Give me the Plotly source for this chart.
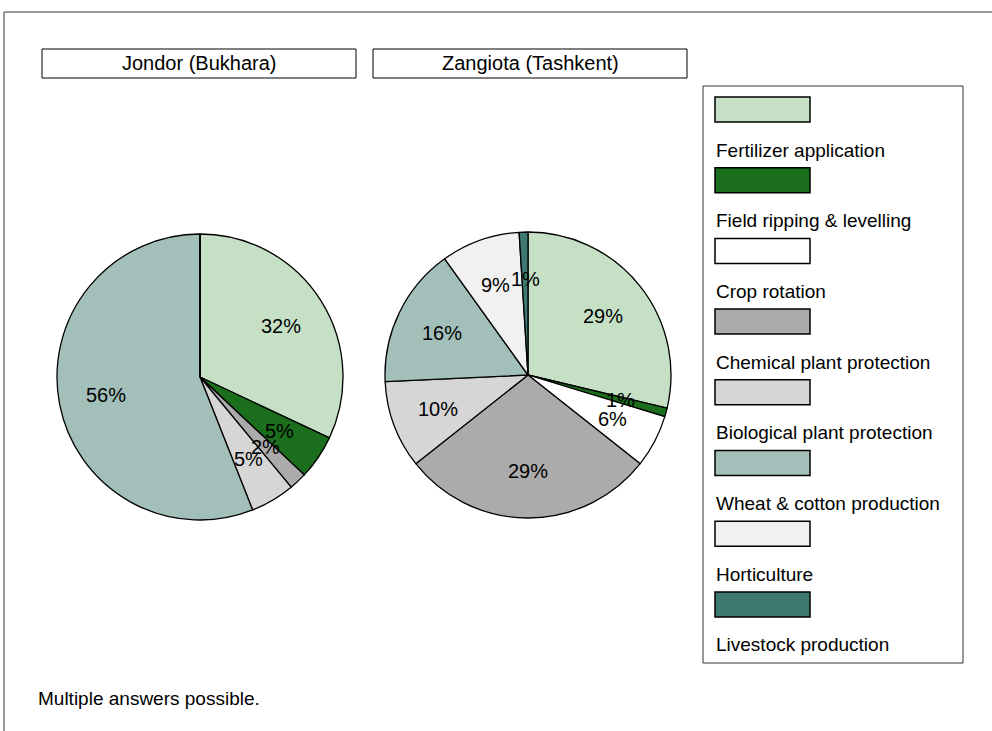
import math
import plotly.graph_objects as go

categories = ["Fertilizer application", "Field ripping & levelling", "Crop rotation",
              "Chemical plant protection", "Biological plant protection",
              "Wheat & cotton production", "Horticulture", "Livestock production"]
colors = ["#c5e0c5", "#1b6e1b", "#ffffff", "#ababab", "#d6d6d6", "#a2bfb9", "#f1f1f1", "#3f7a72"]
jondor_values = [32, 5, 0, 2, 5, 56, 0, 0]
zangiota_values = [29, 1, 6, 29, 10, 16, 9, 1]
pie_titles = ["Jondor (Bukhara)", "Zangiota (Tashkent)"]
footnote = "Multiple answers possible."

W, H = 992, 731
FONT = "Liberation Sans, Arial, sans-serif"


def px(x):
    return x / W


def py(y):
    return 1 - y / H


# pie geometry (pixel centres and radius)
pies = [
    dict(values=jondor_values, cx=200, cy=377, r=143, title=pie_titles[0], box=(42, 356)),
    dict(values=zangiota_values, cx=528, cy=375, r=143, title=pie_titles[1], box=(373, 687)),
]

fig = go.Figure()
annotations = []
shapes = []

for p in pies:
    cx, cy, r = p["cx"], p["cy"], p["r"]
    fig.add_trace(go.Pie(
        values=p["values"], labels=categories, sort=False, direction="clockwise",
        rotation=0, textinfo="none", hoverinfo="skip", showlegend=False,
        marker=dict(colors=colors, line=dict(color="black", width=1.3)),
        domain=dict(x=[px(cx - r), px(cx + r)], y=[py(cy + r), py(cy - r)]),
    ))
    total = sum(p["values"])
    cum = 0
    for v in p["values"]:
        if v > 0:
            th = 2 * math.pi * (cum + v / 2) / total
            lx = cx + 0.67 * r * math.sin(th)
            ly = cy - 0.67 * r * math.cos(th)
            annotations.append(dict(x=px(lx), y=py(ly), xref="paper", yref="paper",
                                    text=f"{v}%", showarrow=False,
                                    font=dict(size=20, color="black", family=FONT),
                                    xanchor="center", yanchor="middle"))
        cum += v
    # title box
    x0, x1 = p["box"]
    shapes.append(dict(type="rect", xref="paper", yref="paper",
                       x0=px(x0), x1=px(x1), y0=py(78), y1=py(49),
                       line=dict(color="black", width=1), fillcolor="white"))
    annotations.append(dict(x=px((x0 + x1) / 2), y=py(63.5), xref="paper", yref="paper",
                            text=p["title"], showarrow=False,
                            font=dict(size=20, color="black", family=FONT),
                            xanchor="center", yanchor="middle"))

# outer frame
shapes.append(dict(type="rect", xref="paper", yref="paper", x0=px(4), x1=px(1010),
                   y0=py(760), y1=py(12), line=dict(color="#333333", width=1)))

# custom legend
shapes.append(dict(type="rect", xref="paper", yref="paper", x0=px(703), x1=px(963),
                   y0=py(663), y1=py(86), line=dict(color="#333333", width=1),
                   fillcolor="white"))
step = 70.7
for i, (cat, col) in enumerate(zip(categories, colors)):
    top = 97 + step * i
    shapes.append(dict(type="rect", xref="paper", yref="paper", x0=px(715), x1=px(810),
                       y0=py(top + 25), y1=py(top), line=dict(color="black", width=1.5),
                       fillcolor=col))
    annotations.append(dict(x=px(714), y=py(150 + step * i), xref="paper", yref="paper",
                            text=cat, showarrow=False, xanchor="left", yanchor="middle",
                            font=dict(size=19, color="black", family=FONT)))

annotations.append(dict(x=px(36), y=py(698), xref="paper", yref="paper", text=footnote,
                        showarrow=False, xanchor="left", yanchor="middle",
                        font=dict(size=19, color="black", family=FONT)))

fig.update_layout(
    width=W, height=H, margin=dict(l=0, r=0, t=0, b=0),
    paper_bgcolor="white", plot_bgcolor="white",
    shapes=shapes, annotations=annotations,
)

fig.write_html("out.html", config={"displayModeBar": False},
               post_script="document.body.style.margin='0px';")
